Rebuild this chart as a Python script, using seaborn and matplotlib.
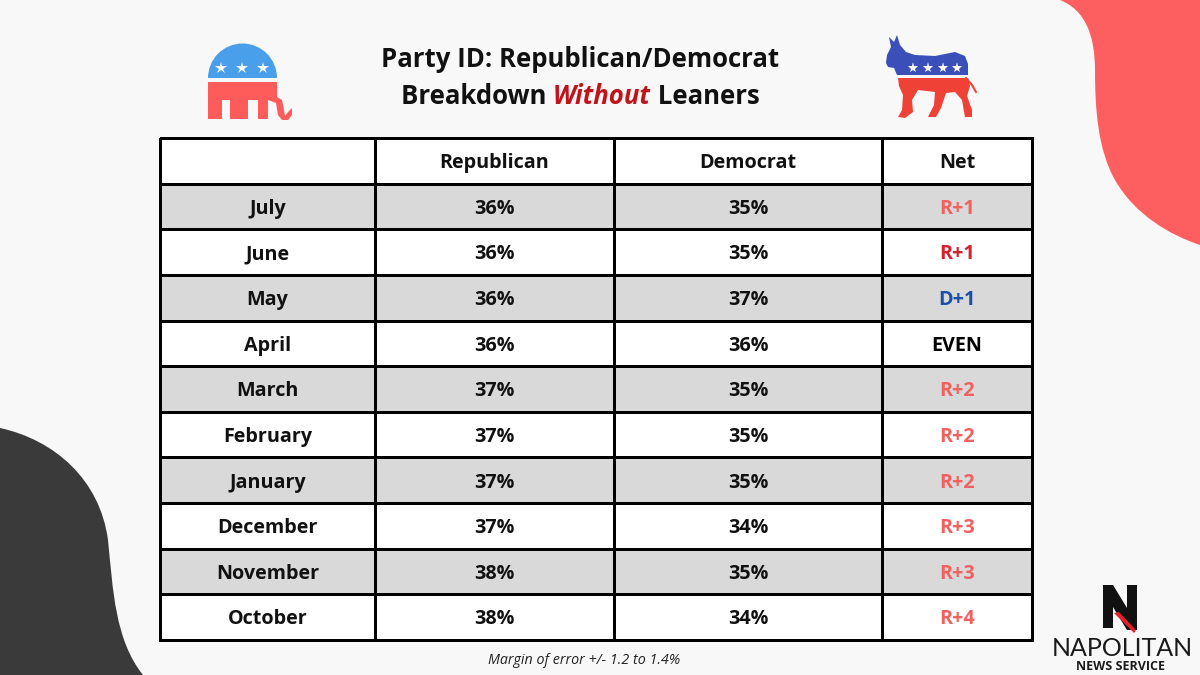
import matplotlib
matplotlib.use("Agg")
import matplotlib.pyplot as plt
import seaborn as sns
import numpy as np
from matplotlib.path import Path
from matplotlib.patches import PathPatch, Polygon, Rectangle, Wedge
from matplotlib.colors import ListedColormap

# ---------------- data ----------------
months = ["July", "June", "May", "April", "March", "February",
          "January", "December", "November", "October"]
republican = [36, 36, 36, 36, 37, 37, 37, 37, 38, 38]
democrat = [35, 35, 37, 36, 35, 35, 35, 34, 35, 34]
net_labels = ["R+1", "R+1", "D+1", "EVEN", "R+2", "R+2", "R+2", "R+3", "R+3", "R+4"]
net_colors = ["#f2605f", "#d3202e", "#1a4fa8", "#000000", "#f2605f", "#f2605f",
              "#f2605f", "#f2605f", "#f2605f", "#f2605f"]
headers = ["", "Republican", "Democrat", "Net"]
title_line1 = "Party ID: Republican/Democrat"
title_parts2 = ["Breakdown ", "Without", " Leaners"]
footnote = "Margin of error +/- 1.2 to 1.4%"

# ---------------- style ----------------
sns.set_theme(style="white")
plt.rcParams["font.family"] = ["Open Sans", "DejaVu Sans"]

BG = "#f8f8f8"
GRAY = "#d9d9d9"

fig = plt.figure(figsize=(12, 6.75), dpi=100, facecolor=BG)

# overlay axes in pixel coordinates (y downwards)
bg = fig.add_axes([0, 0, 1, 1], zorder=0)
bg.set_xlim(0, 1200)
bg.set_ylim(675, 0)
bg.axis("off")
bg.set_facecolor(BG)

# red blob top right
verts = [(1060, 0), (1085, 10), (1095, 35), (1095, 70),
         (1095, 110), (1098, 150), (1115, 180),
         (1135, 215), (1170, 235), (1200, 245),
         (1200, 0), (1060, 0)]
codes = [Path.MOVETO, Path.CURVE4, Path.CURVE4, Path.CURVE4,
         Path.CURVE4, Path.CURVE4, Path.CURVE4,
         Path.CURVE4, Path.CURVE4, Path.CURVE4,
         Path.LINETO, Path.CLOSEPOLY]
bg.add_patch(PathPatch(Path(verts, codes), facecolor="#fd5f60", edgecolor="none"))

# dark blob bottom left
verts = [(0, 428), (55, 440), (100, 480), (108, 540),
         (113, 590), (115, 640), (143, 675),
         (0, 675), (0, 428)]
codes = [Path.MOVETO, Path.CURVE4, Path.CURVE4, Path.CURVE4,
         Path.CURVE4, Path.CURVE4, Path.CURVE4,
         Path.LINETO, Path.CLOSEPOLY]
bg.add_patch(PathPatch(Path(verts, codes), facecolor="#3a3a3a", edgecolor="none"))

# ---- elephant logo ----
E_BLUE = "#4a9fea"
E_RED = "#fe5b5b"
bg.add_patch(Wedge((242.5, 78), 34.5, 180, 360, facecolor=E_BLUE, edgecolor="none"))
for sx in [221, 242, 263]:
    bg.plot(sx, 68, marker="*", color="white", markersize=9, markeredgewidth=0)
elephant_red = [(208, 82), (277, 82), (277, 97), (282, 100), (284, 110),
                (285, 116), (288, 112), (292, 108), (292, 115), (288, 120),
                (282, 120), (278, 115), (276, 103), (268, 100), (268, 119),
                (258, 119), (258, 100), (248, 100), (248, 119), (230, 119),
                (230, 100), (222, 100), (222, 119), (208, 119)]
bg.add_patch(Polygon(elephant_red, closed=True, facecolor=E_RED, edgecolor="none"))

# ---- donkey logo ----
D_BLUE = "#3b4fb8"
D_RED = "#ef4136"
donkey_blue = [(886, 63), (887, 55), (891, 47), (889, 37), (894, 42), (897, 35),
               (900, 45), (906, 52), (915, 55), (935, 56), (955, 52), (965, 56),
               (968, 64), (968, 75), (897, 75), (894, 68), (888, 67)]
bg.add_patch(Polygon(donkey_blue, closed=True, facecolor=D_BLUE, edgecolor="none"))
for sx in [913, 928, 943, 957]:
    bg.plot(sx, 68, marker="*", color="white", markersize=8, markeredgewidth=0)
donkey_red = [(898, 78), (968, 78), (970, 86), (967, 96), (972, 110), (972, 117),
              (965, 117), (962, 100), (955, 92), (946, 93), (941, 108), (936, 117),
              (928, 117), (934, 105), (935, 92), (918, 90), (912, 100), (913, 112),
              (905, 118), (898, 117), (902, 110), (903, 95), (899, 86)]
bg.add_patch(Polygon(donkey_red, closed=True, facecolor=D_RED, edgecolor="none"))
bg.plot([966, 972, 976], [78, 85, 92], color=D_RED, lw=1.5, solid_capstyle="round")

# ---- Napolitan logo ----
n_shape = [(1103, 585), (1113, 585), (1127, 608), (1127, 585), (1137, 585),
           (1137, 630), (1127, 630), (1113, 607), (1113, 628), (1103, 628)]
bg.add_patch(Polygon(n_shape, closed=True, facecolor="#111111", edgecolor="none"))
bg.add_patch(Polygon([(1114, 613), (1119, 612), (1136, 630), (1134, 633)], closed=True,
                     facecolor="#e0202a", edgecolor="none"))
bg.text(1122, 656, "NAPOLITAN", ha="center", va="baseline", fontsize=18,
        fontweight="normal", color="#1a1a1a", family=["Lato", "DejaVu Sans"])
bg.text(1121, 670, "NEWS SERVICE", ha="center", va="baseline", fontsize=9,
        fontweight="bold", color="#1a1a1a", family=["Open Sans", "DejaVu Sans"])

# ---- title ----
TITLE_FS = 18.5
bg.text(580, 67, title_line1, ha="center", va="baseline", fontsize=TITLE_FS,
        fontweight="bold", color="#111111")
renderer = fig.canvas.get_renderer()
styles2 = [dict(color="#111111", fontstyle="normal"),
           dict(color="#c0141b", fontstyle="italic"),
           dict(color="#111111", fontstyle="normal")]
pieces = []
for txt, st in zip(title_parts2, styles2):
    t = bg.text(0, 104, txt, ha="left", va="baseline", fontsize=TITLE_FS,
                fontweight="bold", **st)
    pieces.append(t)
widths = []
for t in pieces:
    bb = t.get_window_extent(renderer=renderer)
    widths.append(bb.width * 1200 / fig.bbox.width)
x0 = 580 - sum(widths) / 2
for t, w in zip(pieces, widths):
    t.set_x(x0)
    x0 += w

# ---- footnote ----
bg.text(584, 664, footnote, ha="center", va="baseline", fontsize=10.3,
        fontstyle="italic", color="#222222")

# ---------------- table ----------------
col_widths = [215, 239, 268, 150]
x_edges = np.concatenate([[0], np.cumsum(col_widths)])
n_rows = len(months) + 1
y_edges = np.arange(n_rows + 1)

ax = fig.add_axes([160 / 1200, 1 - 640 / 675, 872 / 1200, 502 / 675], zorder=2)
ax.set_xlim(0, x_edges[-1])
ax.set_ylim(n_rows, 0)
ax.axis("off")
ax.patch.set_alpha(0)

shade = np.zeros((n_rows, len(col_widths)))
for i in range(len(months)):
    if i % 2 == 0:
        shade[i + 1, :] = 1
mesh = ax.pcolormesh(x_edges, y_edges, shade, cmap=ListedColormap(["white", GRAY]),
                     vmin=0, vmax=1, edgecolors="black", linewidth=1.9)
mesh.set_clip_on(False)

centers = (x_edges[:-1] + x_edges[1:]) / 2
FS = 14.2
OFF = 0.16
for j, h in enumerate(headers):
    if h:
        ax.text(centers[j], 0.5 + OFF, h, ha="center", va="baseline", fontsize=FS,
                fontweight="bold", color="#111111")
for i in range(len(months)):
    y = i + 1.5 + OFF
    ax.text(centers[0], y, months[i], ha="center", va="baseline", fontsize=FS,
            fontweight="bold", color="#111111")
    ax.text(centers[1], y, f"{republican[i]}%", ha="center", va="baseline", fontsize=FS,
            fontweight="bold", color="#111111")
    ax.text(centers[2], y, f"{democrat[i]}%", ha="center", va="baseline", fontsize=FS,
            fontweight="bold", color="#111111")
    ax.text(centers[3], y, net_labels[i], ha="center", va="baseline", fontsize=FS,
            fontweight="bold", color=net_colors[i])

fig.savefig("out.png", dpi=100, facecolor=BG)
